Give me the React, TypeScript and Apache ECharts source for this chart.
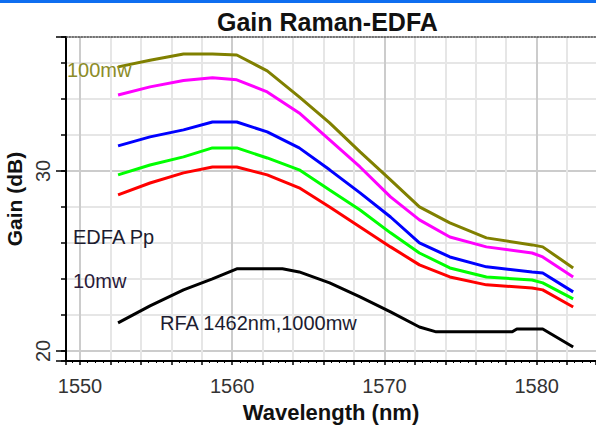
import React, { useEffect, useRef } from "react";
import * as echarts from "echarts";

// ---- data ----
const WAVELENGTHS = [1552.5, 1554.6, 1556.8, 1558.7, 1560.3, 1562.3, 1564.4, 1566.4, 1568.4, 1570.4, 1572.3, 1574.3, 1576.7, 1579.7, 1580.4, 1582.4];
const GAIN_OLIVE = [35.78, 36.15, 36.5, 36.5, 36.44, 35.56, 34.11, 32.67, 31.06, 29.5, 28.0, 27.11, 26.28, 25.89, 25.78, 24.61];
const GAIN_MAGENTA = [34.22, 34.67, 35.02, 35.17, 35.06, 34.39, 33.22, 31.72, 30.22, 28.56, 27.28, 26.33, 25.78, 25.44, 25.22, 24.11];
const GAIN_BLUE = [31.39, 31.89, 32.28, 32.72, 32.72, 32.17, 31.28, 30.06, 28.78, 27.44, 26.0, 25.22, 24.67, 24.39, 24.33, 23.28];
const GAIN_GREEN = [29.78, 30.33, 30.78, 31.28, 31.28, 30.72, 30.06, 28.94, 27.83, 26.56, 25.44, 24.61, 24.11, 23.94, 23.78, 22.89];
const GAIN_RED = [28.67, 29.33, 29.89, 30.22, 30.22, 29.78, 29.06, 28.0, 26.89, 25.78, 24.78, 24.11, 23.67, 23.5, 23.39, 22.44];

const RFA_WAVELENGTHS = [1552.5, 1554.6, 1556.8, 1558.7, 1560.3, 1562.3, 1563.3, 1564.4, 1566.4, 1568.4, 1570.4, 1572.3, 1573.4, 1578.4, 1578.7, 1580.4, 1582.4];
const GAIN_RFA = [21.56, 22.5, 23.39, 24.0, 24.56, 24.56, 24.56, 24.39, 23.78, 23.0, 22.17, 21.33, 21.06, 21.06, 21.22, 21.22, 20.22];

const X_MIN = 1549.08;
const X_MAX = 1583.9;
const Y_MIN = 19.44;
const Y_MAX = 37.44;
const X_LABELS = [1550, 1560, 1570, 1580];
const Y_LABELS = [20, 30];

const TITLE = "Gain Raman-EDFA";
const X_NAME = "Wavelength (nm)";
const Y_NAME = "Gain (dB)";

const FONT = "'Liberation Sans', Arial, sans-serif";

const zip = (xs: number[], ys: number[]) => xs.map((x, i) => [x, ys[i]]);

export default function App() {
  const ref = useRef<HTMLDivElement | null>(null);

  useEffect(() => {
    if (!ref.current) return;
    const chart = echarts.init(ref.current, null, { renderer: "svg" });

    const lightGrid = { show: true, lineStyle: { color: "#e6e6e6", width: 2 }, showMinLine: false, showMaxLine: false };
    const darkGrid = { show: true, lineStyle: { color: "#cccccc", width: 2 }, showMinLine: false, showMaxLine: false };

    const line = (name: string, data: number[][], color: string) => ({
      type: "line",
      name,
      data,
      xAxisIndex: 0,
      yAxisIndex: 0,
      showSymbol: false,
      symbol: "none",
      lineStyle: { color, width: 3 },
      itemStyle: { color },
      z: 5,
    });

    chart.setOption({
      animation: false,
      backgroundColor: "#ffffff",
      title: {
        text: TITLE,
        left: 217,
        top: 9,
        padding: 0,
        textStyle: { fontFamily: FONT, fontSize: 25, fontWeight: "bold", color: "#111111" },
      },
      grid: { left: 66, right: 0, top: 37, bottom: 69, outerBoundsMode: "none", containLabel: false },
      xAxis: [
        {
          type: "value",
          position: "bottom",
          min: X_MIN,
          max: X_MAX,
          minInterval: 2,
          maxInterval: 2,
          axisLine: { show: true, lineStyle: { color: "#000", width: 2 } },
          axisTick: { show: true, length: 4, lineStyle: { color: "#000", width: 1.5 } },
          minorTick: { show: true, splitNumber: 4, length: 2, lineStyle: { color: "#000", width: 1 } },
          axisLabel: { show: false },
          splitLine: lightGrid,
        },
        {
          type: "value",
          position: "bottom",
          min: X_MIN,
          max: X_MAX,
          minInterval: 10,
          maxInterval: 10,
          axisLine: { show: false },
          axisTick: { show: false },
          axisLabel: {
            show: true,
            margin: 15,
            fontFamily: FONT,
            fontSize: 20,
            color: "#333333",
            formatter: (v: number) => (X_LABELS.includes(Math.round(v * 100) / 100) ? String(v) : ""),
          },
          splitLine: darkGrid,
          name: X_NAME,
          nameLocation: "middle",
          nameGap: 40,
          nameTextStyle: { fontFamily: FONT, fontSize: 22, fontWeight: "bold", color: "#111111" },
        },
        {
          type: "value",
          position: "top",
          min: X_MIN,
          max: X_MAX,
          axisLine: { show: true, lineStyle: { color: "#444", width: 1.5, type: [1.5, 1.5] } },
          axisTick: { show: false },
          axisLabel: { show: false },
          splitLine: { show: false },
        },
      ],
      yAxis: [
        {
          type: "value",
          position: "left",
          min: Y_MIN,
          max: Y_MAX,
          minInterval: 2,
          maxInterval: 2,
          axisLine: { show: true, lineStyle: { color: "#000", width: 2 } },
          axisTick: { show: true, length: 5, lineStyle: { color: "#000", width: 1.5 } },
          axisLabel: { show: false },
          splitLine: lightGrid,
        },
        {
          type: "value",
          position: "left",
          min: Y_MIN,
          max: Y_MAX,
          minInterval: 10,
          maxInterval: 10,
          axisLine: { show: false },
          axisTick: { show: true, length: 10, lineStyle: { color: "#000", width: 1.5 } },
          axisLabel: {
            show: true,
            rotate: 90,
            margin: 13,
            fontFamily: FONT,
            fontSize: 20,
            color: "#333333",
            formatter: (v: number) => (Y_LABELS.includes(Math.round(v * 100) / 100) ? String(v) : ""),
          },
          splitLine: darkGrid,
          name: Y_NAME,
          nameLocation: "middle",
          nameGap: 33,
          nameRotate: 90,
          nameTextStyle: { fontFamily: FONT, fontSize: 21, fontWeight: "bold", color: "#111111" },
        },
      ],
      series: [
        line("RFA 1462nm,1000mw", zip(RFA_WAVELENGTHS, GAIN_RFA), "#000000"),
        line("10mw", zip(WAVELENGTHS, GAIN_RED), "#ff0000"),
        line("Green", zip(WAVELENGTHS, GAIN_GREEN), "#00ff00"),
        line("Blue", zip(WAVELENGTHS, GAIN_BLUE), "#0000ff"),
        line("Magenta", zip(WAVELENGTHS, GAIN_MAGENTA), "#ff00ff"),
        line("100mw", zip(WAVELENGTHS, GAIN_OLIVE), "#808000"),
      ],
      graphic: [
        { type: "rect", shape: { x: 0, y: 0, width: 596, height: 3 }, style: { fill: "#0f6ef0" }, z: 100 },
        {
          type: "text", x: 67, y: 70, z: 100,
          style: { text: "100mw", fontFamily: FONT, fontSize: 20, fill: "#8c8c28", textVerticalAlign: "middle", verticalAlign: "middle" },
        },
        {
          type: "text", x: 73, y: 237, z: 100,
          style: { text: "EDFA Pp", fontFamily: FONT, fontSize: 20, fill: "#1c1c30", textVerticalAlign: "middle", verticalAlign: "middle" },
        },
        {
          type: "text", x: 73, y: 281, z: 100,
          style: { text: "10mw", fontFamily: FONT, fontSize: 20, fill: "#2a1a3a", textVerticalAlign: "middle", verticalAlign: "middle" },
        },
        {
          type: "text", x: 160, y: 323, z: 100,
          style: { text: "RFA 1462nm,1000mw", fontFamily: FONT, fontSize: 20, fill: "#1c1c30", textVerticalAlign: "middle", verticalAlign: "middle" },
        },
      ],
    });

    return () => chart.dispose();
  }, []);

  return (
    <div
      ref={ref}
      style={{ position: "fixed", left: 0, top: 0, width: 596, height: 430, background: "#fff" }}
    />
  );
}
